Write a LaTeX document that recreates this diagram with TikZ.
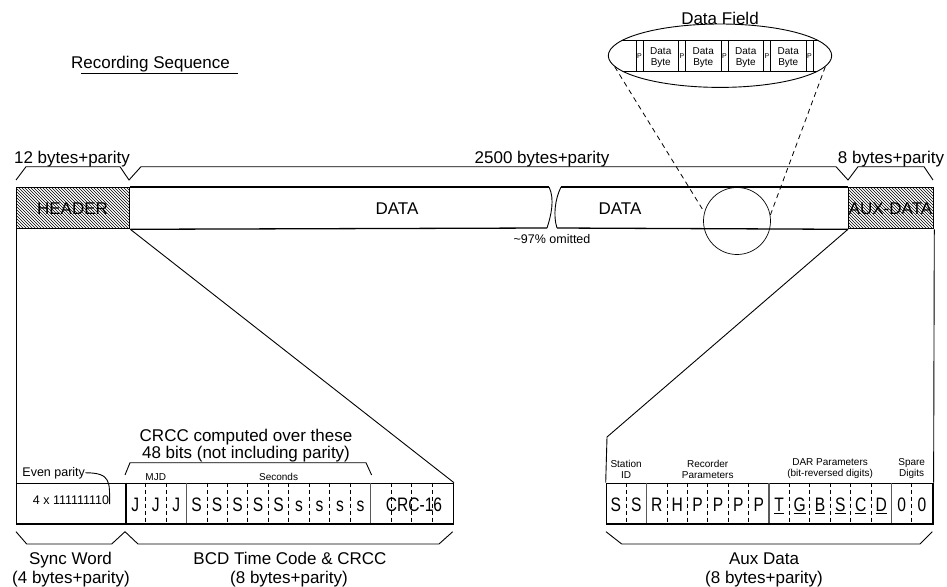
\documentclass[tikz,border=0pt]{standalone}
\usepackage{graphicx}
\usepackage{fontspec}
\setmainfont{Liberation Sans}
\usetikzlibrary{patterns,shapes.geometric}

\begin{document}
\begin{tikzpicture}[x=1pt, y=-1pt, line width=0.9pt,
  big/.style={font=\fontsize{17}{17}\selectfont, inner sep=0pt, anchor=base},
  mid/.style={font=\fontsize{12.5}{13}\selectfont, inner sep=0pt, anchor=base},
  small/.style={font=\fontsize{10}{11}\selectfont, inner sep=0pt, align=center},
  ptag/.style={font=\fontsize{7}{7}\selectfont, inner sep=0pt},
  digit/.style={font=\fontsize{19.5}{20}\selectfont, inner sep=0pt, anchor=base},
  hatched/.style={draw, line width=1.3pt, pattern=north west lines, anchor=north west, inner sep=0pt, minimum height=41pt},
  frame/.style={draw, line width=1.3pt, anchor=north west, inner sep=0pt, minimum height=40.6pt},
  digitsep/.style={line width=0.8pt, dash pattern=on 4pt off 3pt},
  groupsep/.style={line width=1.3pt, black!65},
  zoomline/.style={line width=0.8pt, dash pattern=on 5pt off 4pt}]
\useasboundingbox (0,0) rectangle (947,586);

% Title
\node[big] (title) at (150.5,68) {Recording Sequence};
\draw (81,73.3) -- (238.3,73.3);

% Recording bar
\node[hatched, minimum width=113pt] (header) at (16,187) {};
\node[big] (headertxt) at (72.5,214) {HEADER};
\node[hatched, minimum width=85pt] (aux) at (848,187) {};
\node[big] (auxtxt) at (890.5,214) {AUX-DATA};
\draw[line width=1.3pt] (header.north east) -- (549,187);
\draw[line width=1.3pt] (header.south east) -- (547,228);
\draw[line width=1.3pt] (561,187) -- (aux.north west);
\draw[line width=1.3pt] (557,228) -- (aux.south west);
% break in the data
\draw (549,187) .. controls (555,199) and (551,216) .. (547,228);
\draw (561,187) .. controls (555,199) and (553,216) .. (557,228);
\node[big] (data1) at (397,214) {DATA};
\node[big] (data2) at (620,214) {DATA};
\node[mid] (omit) at (552,243) {\textasciitilde 97\% omitted};

% Lengths above the bar
\draw (16,180) -- (26,166.7) -- (120,166.7) -- (129,180) -- (141,166.7)
  -- (836,166.7) -- (848,180) -- (858,166.7) -- (924,166.7) -- (933,180);
\node[big] (hdrlen) at (72,163) {12 bytes+parity};
\node[big] (datalen) at (542,163) {2500 bytes+parity};
\node[big] (auxlen) at (891,163) {8 bytes+parity};

% Data field blow-up
\node[draw, circle, minimum size=67pt, inner sep=0pt, line width=0.7pt] (lens) at (737,221) {};
\node[draw, ellipse, minimum width=223.4pt, minimum height=63.4pt, inner sep=0pt] (field) at (720,55.7) {};
\node[big] (fieldtxt) at (720,24.5) {Data Field};
\begin{scope}
  \clip (720,55.7) ellipse [x radius=111.7, y radius=31.7];
  \draw (600,40) -- (840,40) (600,71) -- (840,71);
\end{scope}
\foreach \x in {636,643,678.5,685.5,721,728,763.5,770.5,806,813}
  \draw (\x,40) -- (\x,71);
\foreach \x [count=\i] in {639.5,682,724.5,767,809.5}
  \node[ptag] (p\i) at (\x,56.5) {P};
\foreach \x [count=\i] in {660.75,703.25,745.75,788.25}
  \node[small] (byte\i) at (\x,57.5) {Data\\Byte};
\draw[zoomline] (field.186) -- (lens.165);
\draw[zoomline] (field.354) -- (lens.10);

% Header contents
\node[frame, minimum width=109pt] (sync) at (16,482.7) {};
\node[frame, minimum width=327.7pt] (tcode) at (125,482.7) {};
\draw (header.south west) -- (sync.north west);
\draw (header.south east) -- (tcode.north east);
\draw[line width=2pt] (sync.north east) -- (sync.south east);
\node[mid] (ones) at (71,504.5) {4 x 111111110};
\node[mid, anchor=base west] (evenp) at (22,476) {Even parity};
\draw (evenp.east) .. controls +(26,0) and +(0,-22) .. ([yshift=-4pt]ones.east);
\foreach \c [count=\i] in {J,J,J,S,S,S,S,S,s,s,s,s}
  \node[digit] (t\i) at ({125+(\i-0.5)*20.48},511) {\scalebox{0.8}[1]{\c}};
\node[digit] (crc) at (414,511) {\scalebox{0.8}[1]{CRC-16}};
\foreach \i in {1,2,4,5,6,7,8,9,10,11,13,14,15}
  \draw[digitsep] ({125+\i*20.48},482.7) -- ++(0,40.6);
\foreach \i in {3,12}
  \draw[groupsep] ({125+\i*20.48},482.7) -- ++(0,40.6);
\node[small, anchor=base] (mjd) at (155.7,480.7) {MJD};
\node[small, anchor=base] (secs) at (278.6,480.7) {Seconds};
\node[big] (crcc1) at (246,441.5) {CRCC computed over these};
\node[big] (crcc2) at (246,458.5) {48 bits (not including parity)};
\draw (125,475) -- (130,462.7) -- (366,462.7) -- (371.6,475);
\draw (16,531.7) -- (26.7,544) -- (111.7,544) -- (125,531.7) -- (138,544)
  -- (439,544) -- (452.7,531.7);
\node[big] (syncl1) at (70.5,564) {Sync Word};
\node[big] (syncl2) at (71,583) {(4 bytes+parity)};
\node[big] (bcdl1) at (290,564) {BCD Time Code \& CRCC};
\node[big] (bcdl2) at (289,583) {(8 bytes+parity)};

% Aux data contents
\node[frame, minimum width=326.6pt] (auxfld) at (605.7,482.7) {};
\draw (aux.south west) -- (607,437) -- (auxfld.north west);
\draw (aux.south east) -- (auxfld.north east);
\foreach \c [count=\i] in {S,S,R,H,P,P,P,P,\underline{T},\underline{G},\underline{B},\underline{S},\underline{C},\underline{D},0,0}
  \node[digit] (a\i) at ({605.7+(\i-0.5)*20.41},511.5) {\scalebox{0.8}[1]{\c}};
\foreach \i in {1,3,4,5,6,7,9,10,11,12,13,15}
  \draw[digitsep] ({605.7+\i*20.41},482.7) -- ++(0,40.6);
\foreach \i in {2,8,14}
  \draw[groupsep] ({605.7+\i*20.41},482.7) -- ++(0,40.6);
\node[small] (stn) at (626.1,469) {Station\\ID};
\node[small] (rec) at (707.7,469) {Recorder\\Parameters};
\node[small] (dar) at (830.1,469) {DAR Parameters\\(bit-reversed digits)};
\node[small] (spare) at (911.7,469) {Spare\\Digits};
\draw (606,531.7) -- (621.7,544) -- (920,544) -- (932.3,531.7);
\node[big] (auxl1) at (764,564) {Aux Data};
\node[big] (auxl2) at (764,583) {(8 bytes+parity)};
\end{tikzpicture}
\end{document}
